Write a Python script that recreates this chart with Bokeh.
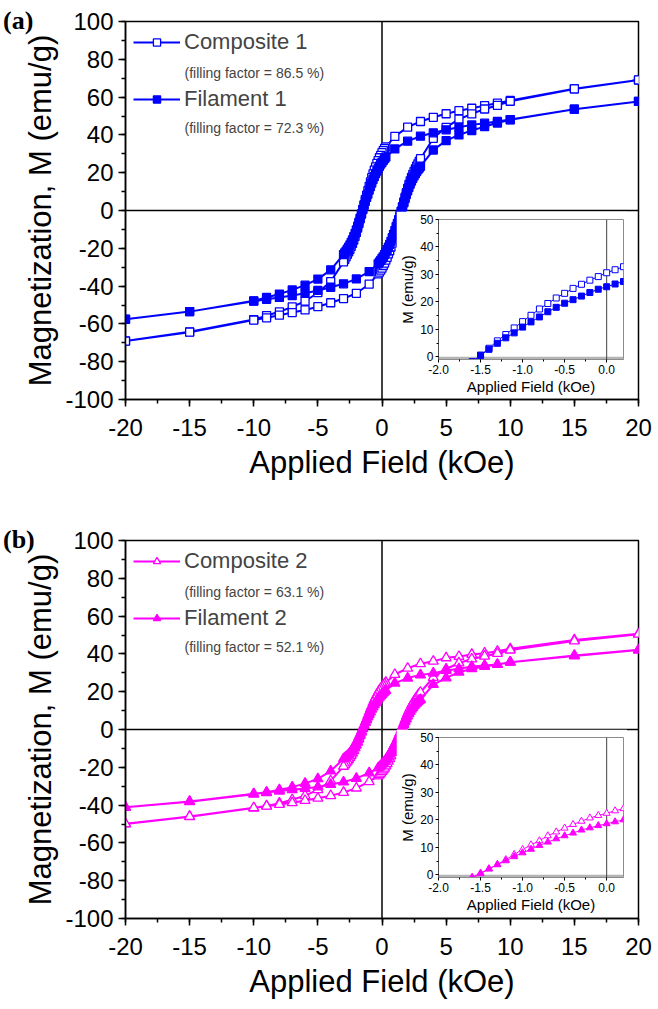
from bokeh.plotting import figure
from bokeh.models import (Range1d, SingleIntervalTicker, Span, Label, Legend, LegendItem,
                          BoxAnnotation, NumeralTickFormatter, GridBox, Div)
from bokeh.embed import file_html
from bokeh.resources import INLINE

# ---------------- data ----------------
H_DOWN = [20, 15, 10, 9, 8, 7, 6, 5, 4, 3, 2, 1,
          0.3, 0.2, 0.1, 0.0, -0.1, -0.2, -0.3, -0.4, -0.5, -0.6, -0.7, -0.8, -0.9, -1.0,
          -1.1, -1.2, -1.3, -1.4, -1.5, -1.6, -1.7, -1.8, -1.9, -2.0, -2.1, -2.2, -2.3,
          -2.4, -2.5, -2.6, -2.7, -2.8, -2.9, -3.0,
          -4, -5, -6, -7, -8, -9, -10, -15, -20]
H_UP = [-20, -15, -10, -9, -8, -7, -6, -5, -4, -3, -2, -1,
        -0.3, -0.2, -0.1, 0.0, 0.1, 0.2, 0.3, 0.4, 0.5, 0.6, 0.7, 0.8, 0.9, 1.0,
        1.1, 1.2, 1.3, 1.4, 1.5, 1.6, 1.7, 1.8, 1.9, 2.0, 2.1, 2.2, 2.3,
        2.4, 2.5, 2.6, 2.7, 2.8, 2.9, 3.0,
        4, 5, 6, 7, 8, 9, 10, 15, 20]

C1_DOWN = [69.0, 64.4, 58.2, 56.8, 55.5, 54.1, 52.8, 51.2, 49.3, 47.1, 44.1, 39.2,
           33.7, 32.8, 31.7, 30.6, 29.2, 27.9, 26.4, 24.9, 23.1, 21.4, 19.4, 17.4, 15.1, 12.8,
           10.5, 8.1, 5.8, 3.1, 0.6, -1.9, -4.4, -6.9, -9.3, -11.6, -13.7, -15.6, -17.4,
           -19.0, -20.5, -21.9, -23.2, -24.5, -25.8, -27.2,
           -37.6, -43.5, -48.0, -51.0, -53.6, -55.6, -57.7, -64.2, -69.0]
C1_UP = [-69.1, -64.4, -58.0, -56.8, -55.4, -54.0, -52.6, -50.9, -48.8, -46.6, -43.8, -39.0,
         -33.5, -32.6, -31.6, -30.5, -29.1, -27.8, -26.3, -24.8, -23.0, -21.3, -19.3, -17.3, -15.0, -12.7,
         -10.4, -8.0, -5.7, -3.0, -0.5, 2.0, 4.5, 7.0, 9.4, 11.7, 13.8, 15.7, 17.5,
         19.1, 20.6, 22.0, 23.4, 24.7, 26.0, 27.4,
         38.2, 44.0, 48.3, 51.1, 53.7, 55.6, 57.8, 64.3, 69.1]

F1_DOWN = [57.7, 53.6, 48.1, 47.1, 46.2, 45.3, 44.1, 42.7, 41.1, 39.3, 36.7, 32.6,
           28.3, 27.4, 26.5, 25.5, 24.6, 23.4, 22.1, 20.8, 19.5, 18.0, 16.4, 14.5, 12.7, 10.8,
           8.7, 6.9, 4.9, 2.7, 0.5, -1.8, -4.0, -6.2, -8.3, -10.3, -12.2, -13.9, -15.5,
           -16.9, -18.2, -19.4, -20.5, -21.5, -22.4, -23.3,
           -31.4, -36.3, -39.5, -42.0, -44.2, -46.0, -47.8, -53.5, -57.5]
F1_UP = [-57.6, -53.5, -48.0, -47.0, -46.0, -45.0, -43.8, -42.3, -40.6, -38.8, -36.2, -32.3,
         -28.2, -27.3, -26.4, -25.4, -24.5, -23.3, -22.0, -20.7, -19.4, -17.9, -16.3, -14.4, -12.6, -10.7,
         -8.6, -6.8, -4.8, -2.6, -0.4, 1.9, 4.1, 6.3, 8.4, 10.4, 12.3, 14.0, 15.6,
         17.0, 18.3, 19.5, 20.6, 21.6, 22.5, 23.4,
         32.0, 37.0, 40.0, 42.3, 44.4, 46.3, 48.0, 53.6, 57.7]

C2_DOWN = [50.6, 47.4, 42.7, 41.4, 40.4, 39.7, 38.6, 37.9, 36.1, 34.8, 32.4, 29.1,
           24.9, 24.1, 23.3, 22.4, 21.6, 20.7, 19.5, 18.3, 17.0, 15.6, 14.2, 12.4, 10.9, 9.2,
           7.4, 5.5, 3.7, 2.1, 0.4, -1.4, -3.2, -5.0, -6.7, -8.3, -9.8, -11.2, -12.5,
           -13.7, -14.8, -15.8, -16.8, -17.7, -18.6, -19.5,
           -27.2, -31.9, -35.0, -37.2, -39.0, -40.4, -41.6, -46.2, -50.0]
C2_UP = [-49.9, -46.0, -41.4, -40.6, -39.7, -38.8, -37.6, -36.4, -35.0, -33.3, -31.0, -27.6,
         -24.6, -23.9, -23.1, -22.2, -21.4, -20.5, -19.3, -18.1, -16.8, -15.4, -14.0, -12.2, -10.7, -9.0,
         -7.2, -5.3, -3.5, -1.9, -0.2, 1.6, 3.4, 5.2, 6.9, 8.5, 10.0, 11.4, 12.7,
         13.9, 15.0, 16.0, 17.0, 17.9, 18.8, 19.7,
         27.5, 32.0, 35.2, 37.3, 38.8, 40.2, 42.0, 46.8, 50.4]

F2_DOWN = [42.2, 39.2, 35.6, 34.4, 33.9, 33.3, 32.1, 31.2, 29.8, 28.9, 27.2, 24.5,
           20.6, 20.0, 19.3, 18.6, 17.9, 17.1, 16.3, 15.2, 14.2, 13.1, 11.9, 10.7, 9.3, 8.0,
           6.6, 5.1, 3.7, 2.2, 0.6, -0.9, -2.5, -4.0, -5.5, -6.9, -8.2, -9.4, -10.5,
           -11.5, -12.4, -13.2, -13.9, -14.5, -15.0, -15.5,
           -22.0, -26.1, -28.5, -30.5, -31.9, -33.2, -34.0, -38.1, -41.1]
F2_UP = [-41.2, -38.2, -34.2, -33.4, -32.6, -31.9, -31.2, -30.4, -29.1, -27.8, -25.9, -23.0,
         -20.4, -19.8, -19.1, -18.4, -17.7, -16.9, -16.1, -15.0, -14.0, -12.9, -11.7, -10.5, -9.1, -7.8,
         -6.4, -4.9, -3.5, -2.0, -0.4, 1.1, 2.7, 4.2, 5.7, 7.1, 8.4, 9.6, 10.7,
         11.7, 12.6, 13.4, 14.1, 14.7, 15.3, 15.8,
         23.8, 27.3, 30.3, 32.1, 33.3, 34.4, 35.6, 38.9, 42.0]

LABELS_A = ["Composite 1", "Filament 1"]
NOTES_A = ["(filling factor = 86.5 %)", "(filling factor = 72.3 %)"]
LABELS_B = ["Composite 2", "Filament 2"]
NOTES_B = ["(filling factor = 63.1 %)", "(filling factor = 52.1 %)"]

X_TICK_STEP = 5
Y_TICK_STEP = 20
INSET_X_STEP = 0.5
INSET_Y_STEP = 10

# ---------------- style ----------------
FONT = "Liberation Sans"
BLUE = "#0000ff"
MAG = "#ff00ff"
H_LOOP = H_DOWN + H_UP


def style_axis(ax, tick_out, minor_out, label_size, title_size, lstand, tstand, lw):
    ax.axis_line_width = lw
    ax.axis_line_color = "black"
    ax.major_tick_line_width = lw
    ax.minor_tick_line_width = lw
    ax.major_tick_out = tick_out
    ax.major_tick_in = 0
    ax.minor_tick_out = minor_out
    ax.minor_tick_in = 0
    ax.major_label_text_font = FONT
    ax.major_label_text_font_size = label_size
    ax.major_label_text_color = "black"
    ax.axis_label_text_font = FONT
    ax.axis_label_text_font_size = title_size
    ax.axis_label_text_font_style = "normal"
    ax.axis_label_text_color = "black"
    ax.major_label_standoff = lstand
    ax.axis_label_standoff = tstand


def main_panel(height, bottom_border, series, labels, notes, color):
    p = figure(width=658, height=height, x_range=Range1d(-20, 20), y_range=Range1d(-100, 100),
               output_backend="svg", toolbar_location=None,
               min_border_left=125, min_border_right=20, min_border_top=21,
               min_border_bottom=bottom_border,
               x_axis_label="Applied Field (kOe)", y_axis_label="Magnetization, M (emu/g)")
    p.frame_align = False
    p.grid.visible = False
    p.outline_line_color = "black"
    p.outline_line_width = 1.5
    p.background_fill_color = "white"
    p.border_fill_color = "white"
    p.xaxis.ticker = SingleIntervalTicker(interval=X_TICK_STEP, num_minor_ticks=2)
    p.yaxis.ticker = SingleIntervalTicker(interval=Y_TICK_STEP, num_minor_ticks=2)
    p.xaxis.formatter = NumeralTickFormatter(format="0")
    p.yaxis.formatter = NumeralTickFormatter(format="0")
    style_axis(p.xaxis[0], 7, 4, "24px", "31px", 12, 6, 1.5)
    style_axis(p.yaxis[0], 7, 4, "24px", "31px", 5, 4, 1.5)
    p.add_layout(Span(location=0, dimension="height", line_color="black", line_width=1.5, level="underlay"))
    p.add_layout(Span(location=0, dimension="width", line_color="black", line_width=1.5, level="underlay"))

    items = []
    for (mloop, marker, fill, size), lab in zip(series, labels):
        ln = p.line(H_LOOP, mloop, line_color=color, line_width=2)
        sc = p.scatter(H_LOOP, mloop, marker=marker, size=size, line_color=color,
                       fill_color=fill, line_width=1.3)
        items.append(LegendItem(label=lab, renderers=[ln, sc]))
    leg = Legend(items=items, location="top_left", margin=8, padding=0, spacing=31,
                 glyph_width=47, glyph_height=18, label_height=18, label_standoff=4,
                 label_text_font=FONT, label_text_font_size="22px",
                 background_fill_alpha=0, border_line_alpha=0)
    p.add_layout(leg)
    p.add_layout(Label(x=-15.4, y=72.5, text=notes[0], text_font=FONT, text_font_size="14px",
                       text_baseline="middle"))
    p.add_layout(Label(x=-15.4, y=43.4, text=notes[1], text_font=FONT, text_font_size="14px",
                       text_baseline="middle"))
    return p


def inset_panel(series, color, top_margin):
    q = figure(width=231, height=186, x_range=Range1d(-2.0, 0.2), y_range=Range1d(-1, 50),
               output_backend="svg", toolbar_location=None,
               min_border_left=36, min_border_right=4, min_border_top=8, min_border_bottom=32,
               x_axis_label="Applied Field (kOe)", y_axis_label="M (emu/g)",
               margin=(top_margin, 0, 0, 396))
    q.frame_align = False
    q.grid.visible = False
    q.outline_line_color = "#8c8c8c"
    q.outline_line_width = 1
    q.background_fill_color = "white"
    q.border_fill_color = "white"
    q.xaxis.ticker = SingleIntervalTicker(interval=INSET_X_STEP, num_minor_ticks=2)
    q.yaxis.ticker = SingleIntervalTicker(interval=INSET_Y_STEP, num_minor_ticks=2)
    q.xaxis.formatter = NumeralTickFormatter(format="0.0")
    q.yaxis.formatter = NumeralTickFormatter(format="0")
    style_axis(q.xaxis[0], 3, 2, "12px", "15px", 2, 1, 1)
    style_axis(q.yaxis[0], 3, 2, "12px", "15px", 2, 1, 1)
    q.xaxis.axis_line_color = "#8c8c8c"
    q.yaxis.axis_line_color = "#505050"
    q.add_layout(BoxAnnotation(bottom=-1, top=0, fill_color="#b4b4b4", fill_alpha=1,
                               line_alpha=0, level="underlay"))
    q.add_layout(Span(location=0, dimension="height", line_color="#404040", line_width=1,
                      level="underlay"))
    for mloop, marker, fill, size in series:
        q.line(H_LOOP, mloop, line_color=color, line_width=1)
        q.scatter(H_LOOP, mloop, marker=marker, size=size, line_color=color,
                  fill_color=fill, line_width=1)
    return q


def tag_div(text):
    return Div(text=text, width=45, height=30, margin=(8, 0, 0, 3),
               styles={"font-family": "Liberation Serif", "font-weight": "bold",
                       "font-size": "26px", "line-height": "26px", "color": "black"})


series_a = [(C1_DOWN + C1_UP, "square", "white", 8), (F1_DOWN + F1_UP, "square", BLUE, 8)]
series_b = [(C2_DOWN + C2_UP, "triangle", "white", 10), (F2_DOWN + F2_UP, "triangle", MAG, 10)]
inset_a_series = [(C1_DOWN + C1_UP, "square", "white", 6), (F1_DOWN + F1_UP, "square", BLUE, 6)]
inset_b_series = [(C2_DOWN + C2_UP, "triangle", "white", 7), (F2_DOWN + F2_UP, "triangle", MAG, 7)]

pa = main_panel(519, 120, series_a, LABELS_A, NOTES_A, BLUE)
pb = main_panel(489, 90, series_b, LABELS_B, NOTES_B, MAG)
ia = inset_panel(inset_a_series, BLUE, 211)
ib = inset_panel(inset_b_series, MAG, 210)
da = tag_div("(a)")
db = tag_div("(b)")

layout = GridBox(children=[(pa, 0, 0), (ia, 0, 0), (da, 0, 0),
                           (pb, 1, 0), (ib, 1, 0), (db, 1, 0)])

open("out.html", "w").write(file_html(layout, INLINE))
